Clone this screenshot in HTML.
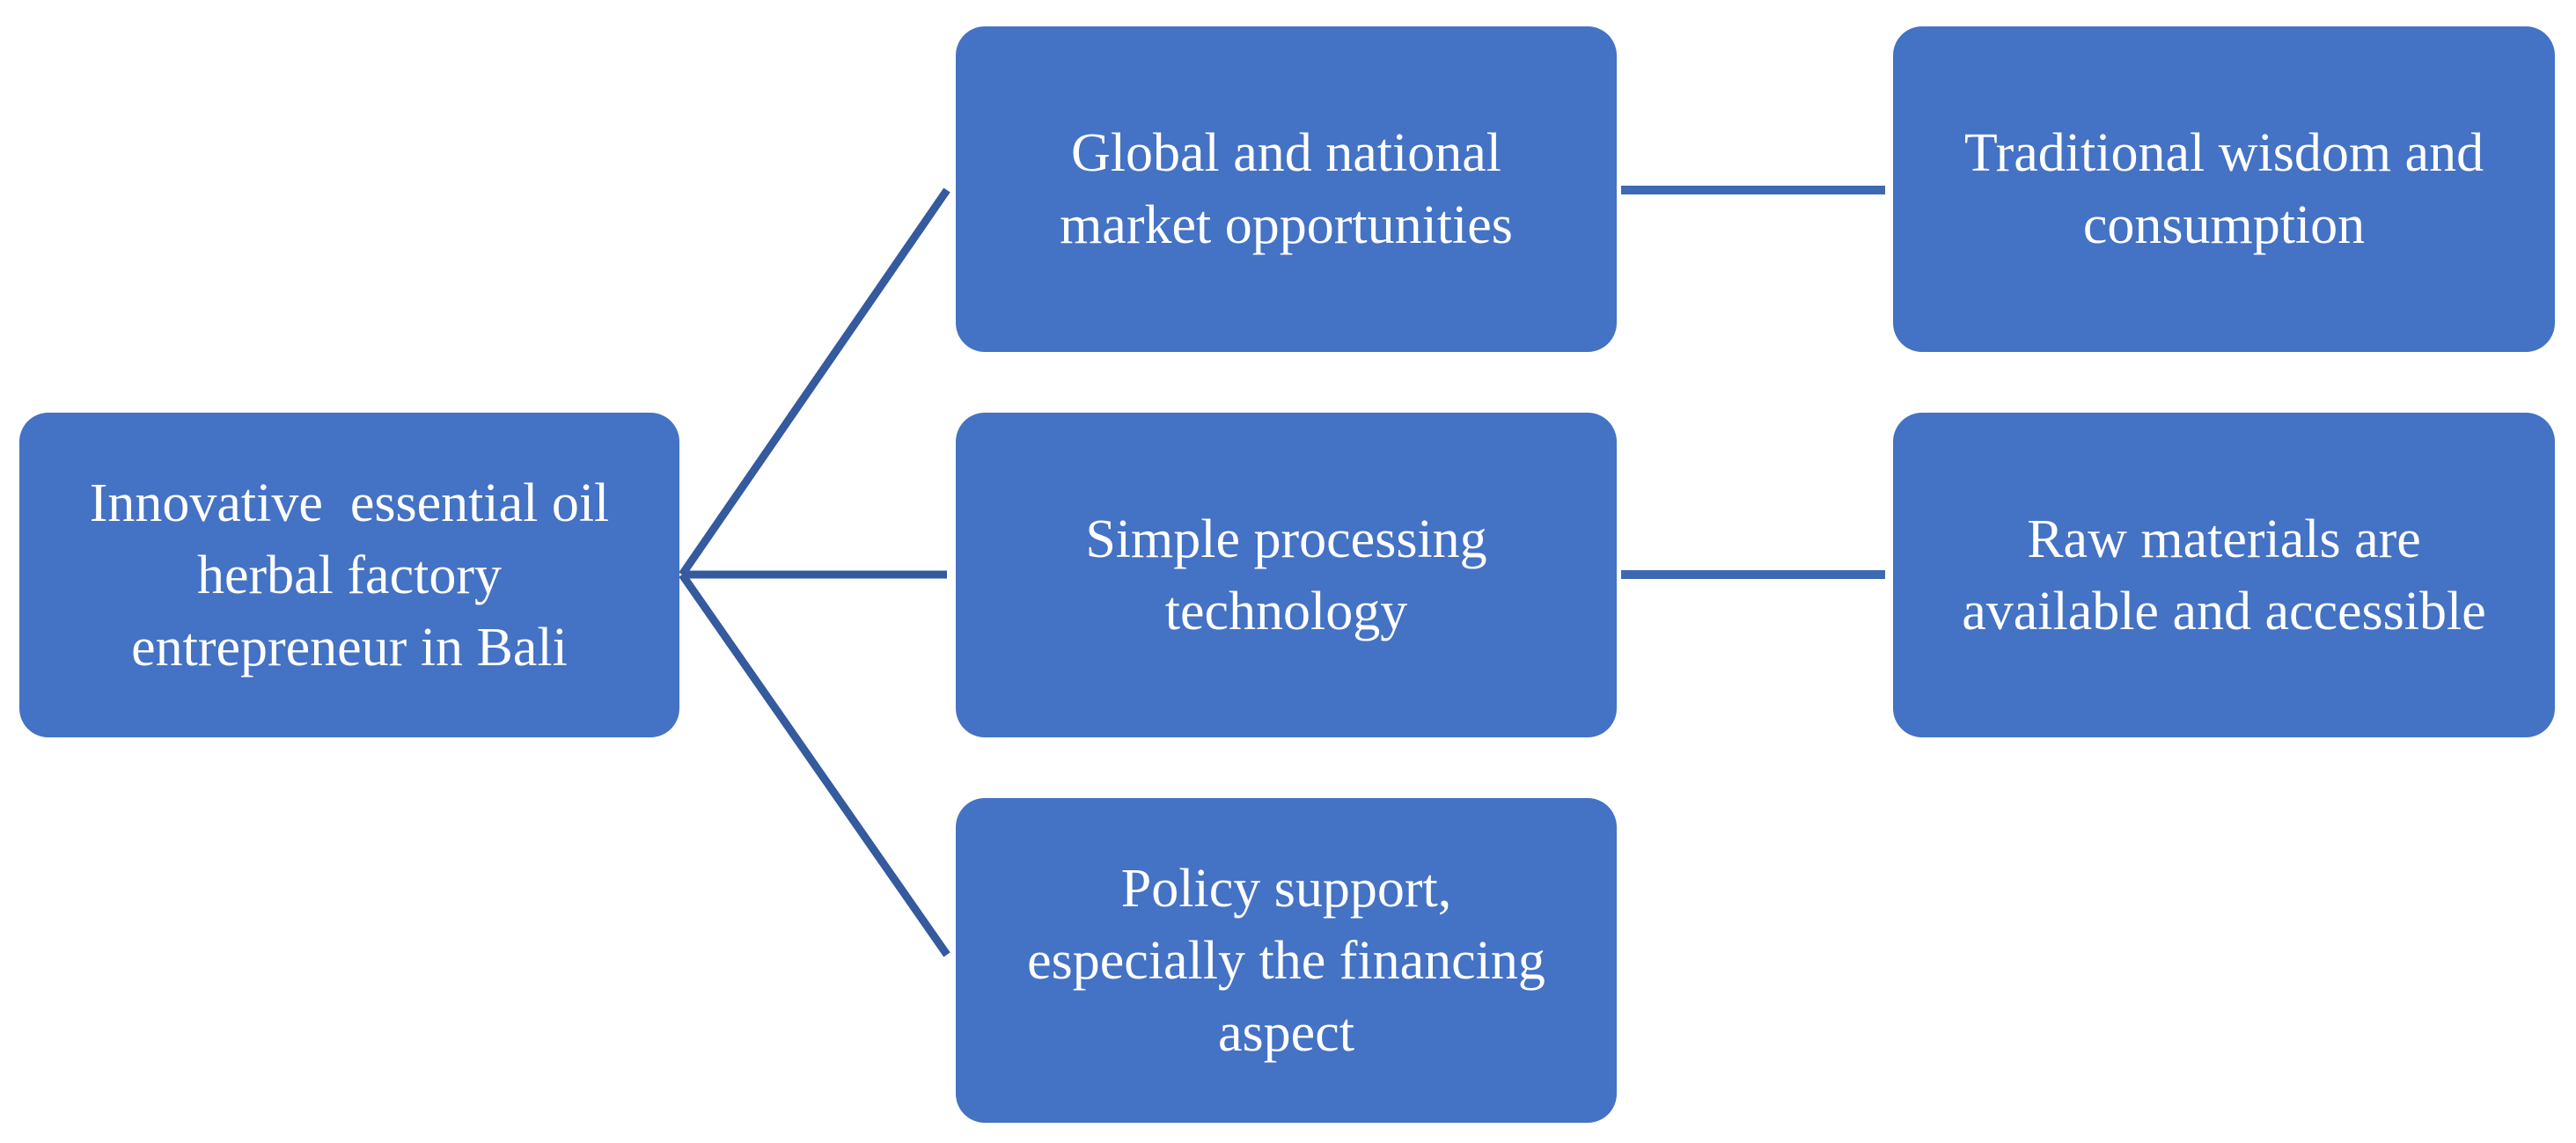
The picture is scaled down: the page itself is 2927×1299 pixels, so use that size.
<!DOCTYPE html>
<html><head><style>
body{margin:0;width:2927px;height:1299px;background:#fff;position:relative;overflow:hidden;font-family:"Liberation Serif",serif;}
.b{position:absolute;background:#4472c4;border-radius:33px;color:#fff;display:flex;align-items:center;justify-content:center;text-align:center;font-size:62px;line-height:82px;}
svg{position:absolute;left:0;top:0}
</style></head><body>
<svg width="2927" height="1299">
<g stroke="#355a9e" stroke-width="9" fill="none">
<line x1="775" y1="653" x2="1076" y2="216"/>
<line x1="775" y1="653" x2="1076" y2="653"/>
<line x1="775" y1="653" x2="1076" y2="1085"/>
</g>
<g stroke="#3d69b2" stroke-width="10">
<line x1="1842" y1="216" x2="2142" y2="216"/>
<line x1="1842" y1="653" x2="2142" y2="653"/>
</g>
</svg>
<div class="b" style="left:22px;top:469px;width:750px;height:369px">Innovative&nbsp; essential oil<br>herbal factory<br>entrepreneur in Bali</div>
<div class="b" style="left:1086px;top:30px;width:751px;height:370px">Global and national<br>market opportunities</div>
<div class="b" style="left:1086px;top:469px;width:751px;height:369px">Simple processing<br>technology</div>
<div class="b" style="left:1086px;top:907px;width:751px;height:369px">Policy support,<br>especially the financing<br>aspect</div>
<div class="b" style="left:2151px;top:30px;width:752px;height:370px">Traditional wisdom and<br>consumption</div>
<div class="b" style="left:2151px;top:469px;width:752px;height:369px">Raw materials are<br>available and accessible</div>
</body></html>
